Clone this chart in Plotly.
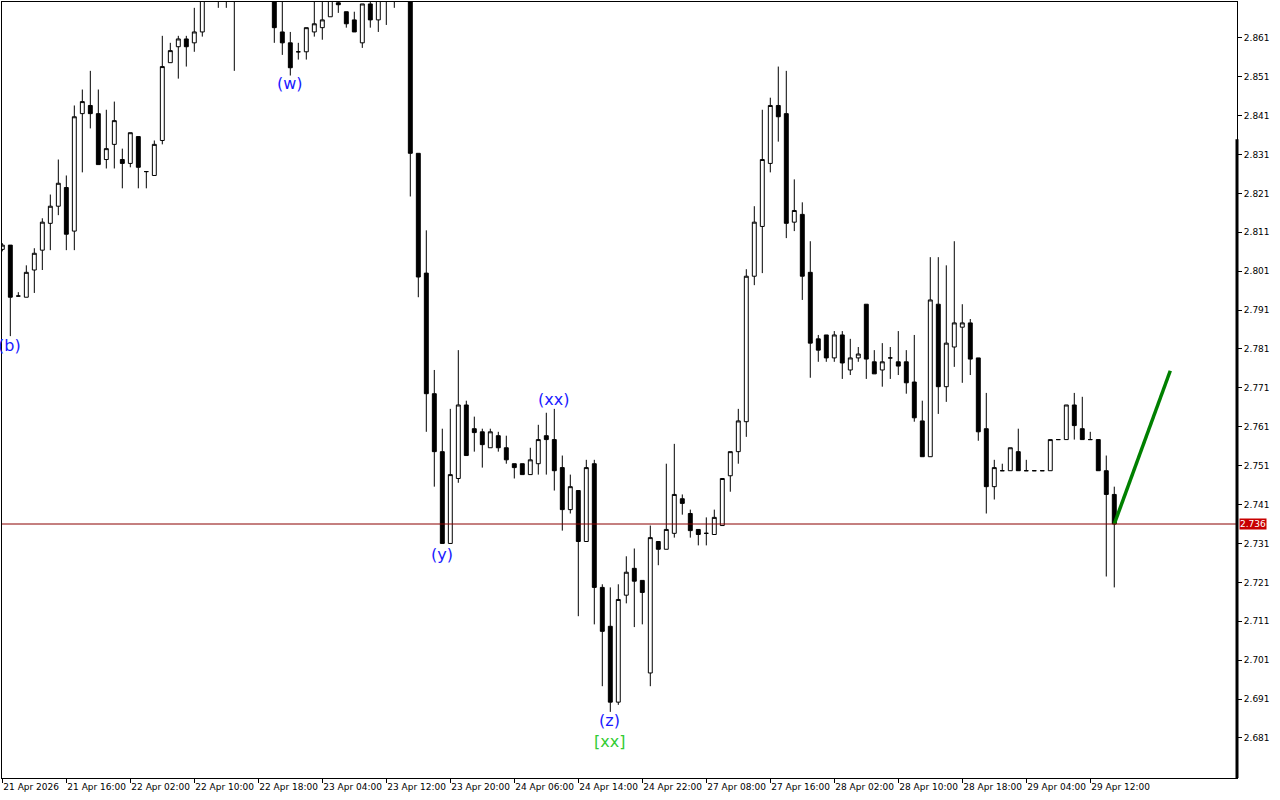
import plotly.graph_objects as go

# ---- data (hourly candles, index based) ----
opens = [2.8066,2.8077,2.7946,2.7943,2.8013,2.8064,2.8133,2.8177,2.8225,2.8113,
         2.8415,2.8436,2.8415,2.8297,2.8336,2.8297,2.8287,2.8356,2.8266,2.8256,
         2.8346,2.8546,2.8587,2.8607,2.8597,2.8625,2.8735,2.8750,2.8730,2.8745,
         2.8725,2.8740,2.8760,2.8745,2.8730,2.8625,2.8597,2.8574,2.8574,2.8625,
         2.8636,2.8664,2.8700,2.8677,2.8656,2.8597,2.8697,2.8656,2.8725,2.8720,
         2.8725,2.8740,2.8313,2.8005,2.7695,2.7546,2.7310,2.7477,2.7666,2.7605,
         2.7597,2.7556,2.7587,2.7556,2.7515,2.7515,2.7487,2.7515,2.7587,2.7577,
         2.7505,2.7397,2.7446,2.7315,2.7515,2.7197,2.7097,2.6902,2.7177,2.7246,
         2.7215,2.6977,2.7315,2.7295,2.7336,2.7425,2.7387,2.7346,2.7336,2.7333,
         2.7356,2.7484,2.7546,2.7623,2.7997,2.8125,2.8287,2.8436,2.8415,2.8136,
         2.8156,2.8007,2.7836,2.7846,2.7787,2.7846,2.7756,2.7787,2.7925,2.7777,
         2.7756,2.7787,2.7777,2.7777,2.7725,2.7625,2.7533,2.7925,2.7713,2.7815,
         2.7866,2.7877,2.7787,2.7605,2.7456,2.7497,2.7497,2.7546,2.7497,2.7497,
         2.7497,2.7497,2.7577,2.7577,2.7666,2.7605,2.7577,2.7577,2.7497,2.7436]
highs = [2.8082,2.8077,2.7956,2.8025,2.8069,2.8146,2.8207,2.8297,2.8256,2.8436,
         2.8477,2.8525,2.8477,2.8425,2.8446,2.8325,2.8366,2.8356,2.8266,2.8346,
         2.8615,2.8597,2.8615,2.8615,2.8687,2.8740,2.8760,2.8765,2.8760,2.8770,
         2.8760,2.8775,2.8780,2.8765,2.8740,2.8712,2.8625,2.8597,2.8636,2.8705,
         2.8710,2.8720,2.8705,2.8677,2.8677,2.8697,2.8710,2.8718,2.8735,2.8745,
         2.8755,2.8750,2.8313,2.8115,2.7756,2.7605,2.7656,2.7807,2.7677,2.7636,
         2.7605,2.7605,2.7597,2.7587,2.7515,2.7515,2.7556,2.7615,2.7646,2.7656,
         2.7536,2.7487,2.7446,2.7525,2.7525,2.7205,2.7197,2.7205,2.7277,2.7297,
         2.7215,2.7356,2.7315,2.7515,2.7566,2.7436,2.7397,2.7346,2.7377,2.7397,
         2.7477,2.7546,2.7656,2.8015,2.8177,2.8425,2.8456,2.8536,2.8525,2.8246,
         2.8187,2.8087,2.7846,2.7846,2.7856,2.7856,2.7836,2.7815,2.7925,2.7807,
         2.7825,2.7815,2.7856,2.7807,2.7846,2.7677,2.8046,2.8046,2.8025,2.8087,
         2.7925,2.7887,2.7787,2.7697,2.7525,2.7515,2.7556,2.7605,2.7525,2.7497,
         2.7497,2.7577,2.7577,2.7666,2.7697,2.7687,2.7597,2.7577,2.7536,2.7456]
lows = [2.8061,2.7843,2.7946,2.7943,2.7954,2.8013,2.8064,2.8154,2.8064,2.8064,
        2.8264,2.8377,2.8284,2.8274,2.8274,2.8223,2.8277,2.8223,2.8223,2.8256,
        2.8336,2.8546,2.8505,2.8536,2.8574,2.8613,2.8715,2.8687,2.8687,2.8525,
        2.8712,2.8725,2.8730,2.8715,2.8597,2.8566,2.8513,2.8554,2.8554,2.8613,
        2.8605,2.8664,2.8674,2.8636,2.8625,2.8584,2.8636,2.8625,2.8643,2.8687,
        2.8715,2.8202,2.7943,2.7597,2.7456,2.7310,2.7310,2.7466,2.7536,2.7546,
        2.7505,2.7556,2.7546,2.7515,2.7477,2.7487,2.7487,2.7487,2.7487,2.7446,
        2.7343,2.7387,2.7123,2.7315,2.7102,2.6943,2.6877,2.6895,2.7156,2.7095,
        2.7102,2.6943,2.7254,2.7295,2.7325,2.7384,2.7325,2.7305,2.7305,2.7333,
        2.7356,2.7443,2.7515,2.7584,2.7974,2.8005,2.8264,2.8343,2.8095,2.8113,
        2.7936,2.7736,2.7777,2.7777,2.7777,2.7733,2.7743,2.7777,2.7733,2.7746,
        2.7713,2.7733,2.7743,2.7695,2.7623,2.7533,2.7533,2.7643,2.7674,2.7764,
        2.7723,2.7743,2.7574,2.7387,2.7423,2.7497,2.7497,2.7497,2.7497,2.7497,
        2.7497,2.7497,2.7577,2.7577,2.7577,2.7577,2.7577,2.7497,2.7225,2.7197]
closes = [2.8077,2.7943,2.7946,2.8007,2.8056,2.8136,2.8177,2.8236,2.8105,2.8407,
          2.8446,2.8415,2.8284,2.8325,2.8397,2.8287,2.8366,2.8277,2.8266,2.8336,
          2.8536,2.8577,2.8607,2.8587,2.8625,2.8720,2.8750,2.8730,2.8745,2.8725,
          2.8740,2.8760,2.8745,2.8730,2.8636,2.8597,2.8533,2.8574,2.8636,2.8646,
          2.8656,2.8715,2.8695,2.8646,2.8625,2.8697,2.8656,2.8712,2.8715,2.8735,
          2.8745,2.8313,2.7995,2.7695,2.7546,2.7310,2.7487,2.7666,2.7536,2.7595,
          2.7564,2.7597,2.7556,2.7525,2.7505,2.7487,2.7525,2.7577,2.7577,2.7497,
          2.7397,2.7456,2.7315,2.7505,2.7197,2.7084,2.6902,2.7166,2.7236,2.7213,
          2.7184,2.7325,2.7295,2.7346,2.7436,2.7413,2.7343,2.7333,2.7336,2.7377,
          2.7477,2.7546,2.7625,2.7997,2.8136,2.8297,2.8436,2.8407,2.8133,2.8166,
          2.7997,2.7825,2.7807,2.7787,2.7846,2.7774,2.7787,2.7797,2.7784,2.7746,
          2.7777,2.7787,2.7766,2.7723,2.7633,2.7533,2.7936,2.7713,2.7825,2.7877,
          2.7877,2.7784,2.7597,2.7456,2.7505,2.7497,2.7556,2.7497,2.7497,2.7497,
          2.7497,2.7577,2.7577,2.7666,2.7613,2.7577,2.7577,2.7497,2.7436,2.7360]

tick_labels = ["21 Apr 2026", "21 Apr 16:00", "22 Apr 02:00", "22 Apr 10:00",
               "22 Apr 18:00", "23 Apr 04:00", "23 Apr 12:00", "23 Apr 20:00",
               "24 Apr 06:00", "24 Apr 14:00", "24 Apr 22:00", "27 Apr 08:00",
               "27 Apr 16:00", "28 Apr 02:00", "28 Apr 10:00", "28 Apr 18:00",
               "29 Apr 04:00", "29 Apr 12:00"]
tick_step = 8
price_ticks = [2.681, 2.691, 2.701, 2.711, 2.721, 2.731, 2.741, 2.751, 2.761,
               2.771, 2.781, 2.791, 2.801, 2.811, 2.821, 2.831, 2.841, 2.851, 2.861]

wave_labels = ["(b)", "(w)", "(y)", "(xx)", "(z)", "[xx]"]
wave_x = [0.92, 36.0, 55.0, 68.84, 75.84, 75.96]
wave_y = [2.7820, 2.8492, 2.7282, 2.7679, 2.6856, 2.6802]
wave_colors = ["#1a1aff", "#1a1aff", "#1a1aff", "#1a1aff", "#1a1aff", "#33cc33"]

proj_x = [139, 146]
proj_y = [2.7360, 2.7754]

last_price = 2.736

idx = list(range(len(opens)))

fig = go.Figure()
fig.add_trace(go.Candlestick(
    x=idx, open=opens, high=highs, low=lows, close=closes,
    increasing=dict(line=dict(color="black", width=1), fillcolor="white"),
    decreasing=dict(line=dict(color="black", width=1), fillcolor="black"),
    whiskerwidth=0, showlegend=False, hoverinfo="skip"))

fig.add_trace(go.Scatter(x=proj_x, y=proj_y, mode="lines",
                         line=dict(color="#008000", width=3.5),
                         showlegend=False, hoverinfo="skip"))

# last-price line
fig.add_shape(type="line", xref="paper", x0=0, x1=1, yref="y",
              y0=last_price, y1=last_price, line=dict(color="#8a0000", width=1))

for t, x, y, c in zip(wave_labels, wave_x, wave_y, wave_colors):
    fig.add_annotation(x=x, y=y, text=t, showarrow=False,
                       font=dict(family="DejaVu Sans", size=16, color=c),
                       xanchor="center", yanchor="middle")

# last price label on axis
fig.add_annotation(xref="paper", x=1.0, y=last_price, yref="y",
                   text=f"{last_price:.3f}", showarrow=False, xanchor="left",
                   yanchor="middle", xshift=2, bgcolor="#c80000", borderpad=0,
                   font=dict(family="DejaVu Sans", size=9, color="white"))

# thick scale bar on right edge (terminal style)
fig.add_shape(type="line", xref="paper", yref="paper", x0=1, x1=1, y0=0, y1=0.823,
              line=dict(color="black", width=3))

fig.update_layout(
    width=1280, height=800,
    margin=dict(l=2, r=43, t=2, b=22, autoexpand=False),
    paper_bgcolor="white", plot_bgcolor="white",
    xaxis=dict(range=[-0.04, 154.34], rangeslider=dict(visible=False),
               tickmode="array",
               tickvals=[i * tick_step for i in range(len(tick_labels))],
               ticktext=tick_labels, ticks="outside", ticklen=4,
               tickcolor="black", ticklabelposition="outside right",
               tickangle=0, automargin=False,
               tickfont=dict(family="DejaVu Sans", size=9, color="black"),
               showgrid=False, zeroline=False, showline=True, linecolor="black",
               linewidth=1, mirror=True, fixedrange=True),
    yaxis=dict(range=[2.6707, 2.8702], side="right", tickmode="array",
               tickvals=price_ticks, ticktext=[f"{v:.3f}" for v in price_ticks],
               ticks="outside", ticklen=4, tickcolor="black", automargin=False,
               tickfont=dict(family="DejaVu Sans", size=9, color="black"),
               showgrid=False, zeroline=False, showline=True, linecolor="black",
               linewidth=1, mirror=True, fixedrange=True),
)

fig.write_html("out.html", config={"displayModeBar": False},
               post_script="document.body.style.margin='0';document.body.style.overflow='hidden';")
